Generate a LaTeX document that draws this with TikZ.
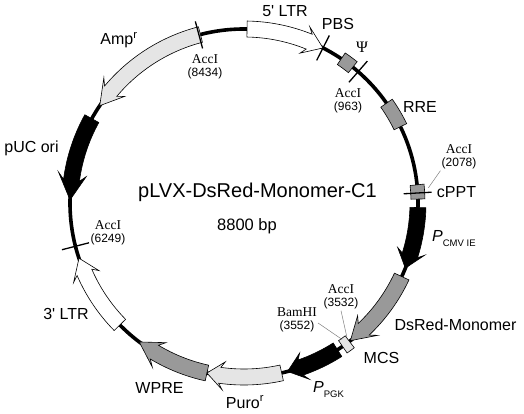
\documentclass[tikz,border=0pt]{standalone}
\usepackage{fontspec}
\setmainfont{Liberation Serif}
\setsansfont{Liberation Sans}
\usetikzlibrary{positioning}

\definecolor{lightfill}{gray}{0.90}
\definecolor{midfill}{gray}{0.60}

\newcommand{\ringR}{174pt}
\newcommand{\bandIn}{166pt}
\newcommand{\bandOut}{182pt}
\newcommand{\wingIn}{160pt}
\newcommand{\wingOut}{188pt}

% arc arrow: start angle, head base angle, tip angle, fill
\newcommand{\featarrow}[4]{%
  \filldraw[feature, fill=#4] (#1:\bandOut) arc[start angle=#1, end angle=#2, radius=\bandOut]
    -- ({#2+0.3*(#2-#3)}:\wingOut) -- (#3:\ringR) -- ({#2+0.3*(#2-#3)}:\wingIn)
    -- (#2:\bandIn) arc[start angle=#2, end angle=#1, radius=\bandIn] -- cycle;}
% arc box: from angle, to angle, fill, inner radius, outer radius
\newcommand{\featbox}[5]{%
  \filldraw[feature, fill=#3] (#1:#4) arc[start angle=#1, end angle=#2, radius=#4]
    -- (#2:#5) arc[start angle=#2, end angle=#1, radius=#5] -- cycle;}
% restriction site tick
\newcommand{\cutsite}[1]{\draw[site] (#1:160pt) -- (#1:188pt);}

\begin{document}
\begin{tikzpicture}[x=1pt, y=1pt,
    feature/.style={draw=black, line width=0.6pt, line join=miter},
    site/.style={line width=1.3pt},
    lbl/.style={font=\sffamily\fontsize{16}{16}\selectfont, inner sep=0pt, anchor=base},
    enz/.style={font=\rmfamily\fontsize{13.5}{13.5}\selectfont, align=center, inner sep=1pt},
    leader/.style={draw=gray, line width=0.5pt}]

\useasboundingbox (-244,-211) rectangle (280,203);

% backbone
\draw[line width=3.6pt] (0,0) circle[radius=\ringR];

% features
\featarrow{104.5}{140}{146}{lightfill}
\featarrow{151}{172.5}{179}{black}
\featarrow{224.5}{203.5}{198.5}{white}
\featarrow{257.7}{239}{233}{midfill}
\featarrow{282.5}{262}{257.7}{lightfill}
\featarrow{-57.5}{-71}{-75.5}{black}
\featarrow{-25}{-46.5}{-52.3}{midfill}
\featarrow{-1.5}{-17.5}{-22}{black}
\featarrow{89}{68}{63}{white}
\featbox{-52.7}{-55.5}{lightfill}{167pt}{182pt}
\featbox{1.3}{6}{midfill}{167pt}{181pt}
\featbox{26}{35}{midfill}{167pt}{181pt}
\featbox{51.3}{56}{midfill}{167pt}{181pt}

% sites
\cutsite{105}
\cutsite{63}
\cutsite{49}
\cutsite{3.3}
\cutsite{194.4}

\coordinate (cppt) at (4.7:185pt);
\coordinate (mcsA) at (-52.5:169pt);
\coordinate (mcsB) at (-54.3:168pt);

% title
\node[lbl, font=\sffamily\fontsize{20}{20}\selectfont] (title) at (13.5,5) {pLVX-DsRed-Monomer-C1};
\node[lbl, font=\sffamily\fontsize{16.5}{17}\selectfont] (size) at (3,-28) {8800 bp};

% feature labels
\node[lbl] (ltr5) at (41,186) {5\textquotesingle{} LTR};
\node[lbl] (pbs) at (94,173) {PBS};
\node[lbl, font=\rmfamily\fontsize{16}{16}\selectfont] (psi) at (118,150) {Ψ};
\node[lbl] (rre) at (176,90) {RRE};
\node[lbl] (cpptlbl) at (212.5,5) {cPPT};
\node[lbl, anchor=base west] (pcmv) at (188,-39) {\textit{P}\raisebox{-5pt}{\fontsize{9.5}{9.5}\selectfont CMV IE}};
\node[lbl] (dsred) at (211.5,-127) {DsRed-Monomer};
\node[lbl] (mcs) at (137.5,-160) {MCS};
\node[lbl, anchor=base west] (ppgk) at (69,-189) {\textit{P}\raisebox{-5pt}{\fontsize{9.5}{9.5}\selectfont PGK}};
\node[lbl] (puro) at (1,-205) {Puro\textsuperscript{r}};
\node[lbl] (wpre) at (-84.5,-190) {WPRE};
\node[lbl] (ltr3) at (-178,-117) {3\textquotesingle{} LTR};
\node[lbl] (puc) at (-212.5,50) {pUC ori};
\node[lbl] (amp) at (-125,158) {Amp\textsuperscript{r}};

% enzyme labels
\node[enz] (acc8434) at (-39,136) {AccI\\{\sffamily\fontsize{12}{13}\selectfont(8434)}};
\node[enz] (acc963) at (104,102) {AccI\\{\sffamily\fontsize{12}{13}\selectfont(963)}};
\node[enz] (acc2078) at (215,46) {AccI\\{\sffamily\fontsize{12}{13}\selectfont(2078)}};
\node[enz] (acc3532) at (97,-94) {AccI\\{\sffamily\fontsize{12}{13}\selectfont(3532)}};
\node[enz] (bam3552) at (53,-117) {BamHI\\{\sffamily\fontsize{12}{13}\selectfont(3552)}};
\node[enz] (acc6249) at (-136,-30) {AccI\\{\sffamily\fontsize{12}{13}\selectfont(6249)}};

\draw[leader] (acc2078.south west) -- (cppt);
\draw[leader] (acc3532.south) -- (mcsA);
\draw[leader] ([yshift=-3pt]bam3552.east) -- (mcsB);

\end{tikzpicture}
\end{document}
